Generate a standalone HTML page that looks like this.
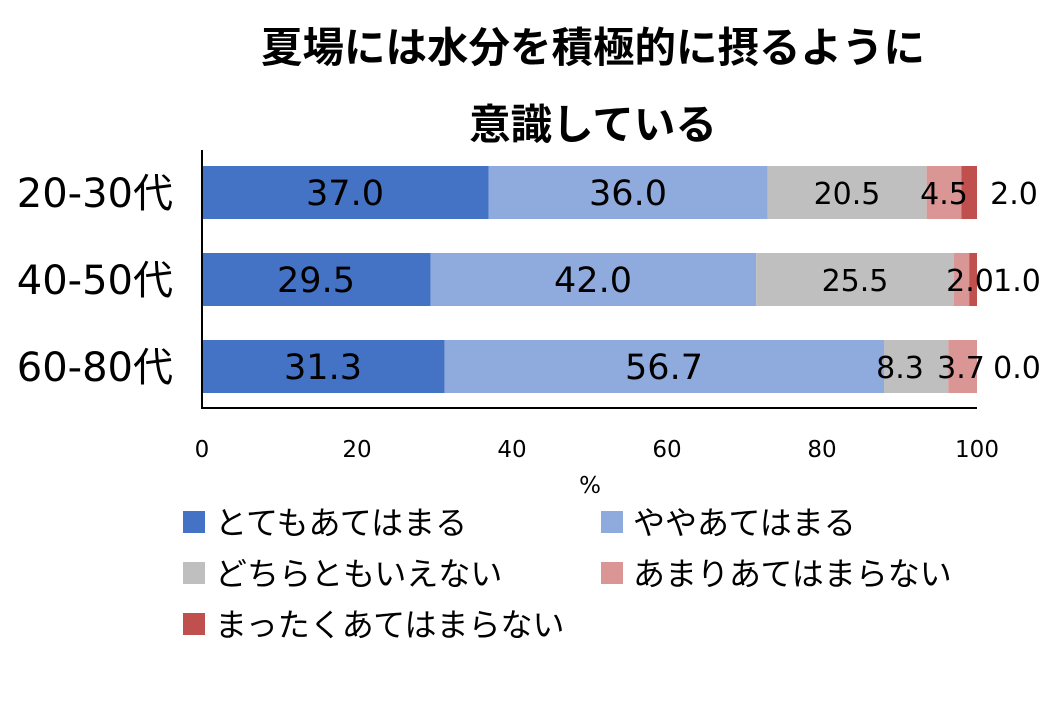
<!DOCTYPE html>
<html><head><meta charset="utf-8"><style>
html,body{margin:0;padding:0;background:#fff;}
svg{display:block;font-family:"DejaVu Sans","Noto Sans CJK JP",sans-serif;}
</style></head><body>
<svg width="1055" height="715" viewBox="0 0 1055 715" xmlns="http://www.w3.org/2000/svg">
<rect width="1055" height="715" fill="#fff"/>
<g font-weight="bold" font-size="41.5" text-anchor="middle" fill="#000" font-family="Noto Sans CJK JP, sans-serif">
<text x="593" y="62">夏場には水分を積極的に摂るように</text>
<text x="593" y="139">意識している</text>
</g>
<rect x="202" y="166" width="286.75" height="53" fill="#4472C4"/>
<rect x="488.75" y="166" width="279" height="53" fill="#8FAADC"/>
<rect x="767.75" y="166" width="158.9" height="53" fill="#BFBFBF"/>
<rect x="926.65" y="166" width="34.9" height="53" fill="#DA9694"/>
<rect x="961.5" y="166" width="15.5" height="53" fill="#C0504D"/>
<rect x="202" y="253" width="228.6" height="53" fill="#4472C4"/>
<rect x="430.6" y="253" width="325.5" height="53" fill="#8FAADC"/>
<rect x="756.1" y="253" width="197.6" height="53" fill="#BFBFBF"/>
<rect x="953.7" y="253" width="15.5" height="53" fill="#DA9694"/>
<rect x="969.2" y="253" width="7.8" height="53" fill="#C0504D"/>
<rect x="202" y="340" width="242.6" height="53" fill="#4472C4"/>
<rect x="444.6" y="340" width="439.4" height="53" fill="#8FAADC"/>
<rect x="884" y="340" width="64.3" height="53" fill="#BFBFBF"/>
<rect x="948.3" y="340" width="28.7" height="53" fill="#DA9694"/>
<line x1="202" y1="150" x2="202" y2="409" stroke="#000" stroke-width="2"/>
<line x1="201" y1="408" x2="977" y2="408" stroke="#000" stroke-width="2"/>
<g font-size="35" text-anchor="middle" fill="#000">
<text x="345" y="205">37.0</text>
<text x="628" y="205">36.0</text>
<text x="316" y="292">29.5</text>
<text x="593" y="292">42.0</text>
<text x="323" y="379">31.3</text>
<text x="664" y="379">56.7</text>
</g>
<g font-size="30" text-anchor="middle" fill="#000">
<text x="847" y="204">20.5</text>
<text x="944" y="204">4.5</text>
<text x="1014" y="204">2.0</text>
<text x="855" y="291">25.5</text>
<text x="970" y="291">2.0</text>
<text x="1017" y="291">1.0</text>
<text x="900" y="378">8.3</text>
<text x="961" y="378">3.7</text>
<text x="1017" y="378">0.0</text>
</g>
<g font-size="40" text-anchor="end" fill="#000">
<text x="173" y="207">20-30代</text>
<text x="173" y="294">40-50代</text>
<text x="173" y="381">60-80代</text>
</g>
<g font-size="23" text-anchor="middle" fill="#000">
<text x="202" y="457">0</text>
<text x="357" y="457">20</text>
<text x="512" y="457">40</text>
<text x="667" y="457">60</text>
<text x="822" y="457">80</text>
<text x="977" y="457">100</text>
<text x="590" y="493">%</text>
</g>
<g font-size="32" fill="#000">
<rect x="183" y="511" width="22" height="22" fill="#4472C4"/>
<text x="215" y="534">とてもあてはまる</text>
<rect x="601" y="511" width="22" height="22" fill="#8FAADC"/>
<text x="633" y="534">ややあてはまる</text>
<rect x="183" y="562" width="22" height="22" fill="#BFBFBF"/>
<text x="215" y="585">どちらともいえない</text>
<rect x="601" y="562" width="22" height="22" fill="#DA9694"/>
<text x="633" y="585">あまりあてはまらない</text>
<rect x="183" y="613" width="22" height="22" fill="#C0504D"/>
<text x="215" y="636">まったくあてはまらない</text>
</g>
</svg>
</body></html>
